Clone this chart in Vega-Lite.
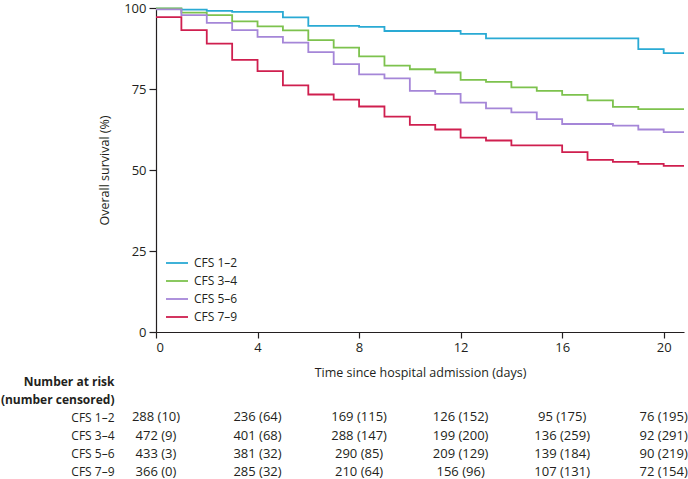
{
  "$schema": "https://vega.github.io/schema/vega-lite/v6.json",
  "padding": {"top": 2, "left": 0, "right": 0, "bottom": 0},
  "background": "white",
  "bounds": "flush",
  "config": {
    "font": "Open Sans",
    "view": {"stroke": null},
    "axis": {
      "domainColor": "#231f20",
      "tickColor": "#231f20",
      "labelColor": "#231f20",
      "titleColor": "#231f20",
      "domainWidth": 1.2,
      "tickWidth": 1.2,
      "labelFontSize": 13,
      "titleFontSize": 12.5,
      "titleFontWeight": "normal",
      "grid": false
    },
    "legend": {"labelFontSize": 12, "labelColor": "#231f20"}
  },
  "datasets": {
    "km": [
      {"group": "CFS 1–2", "day": 0, "survival": 99.8},
      {"group": "CFS 1–2", "day": 1, "survival": 99.5},
      {"group": "CFS 1–2", "day": 2, "survival": 99.1},
      {"group": "CFS 1–2", "day": 3, "survival": 98.8},
      {"group": "CFS 1–2", "day": 5, "survival": 97.1},
      {"group": "CFS 1–2", "day": 6, "survival": 94.5},
      {"group": "CFS 1–2", "day": 8, "survival": 94.2},
      {"group": "CFS 1–2", "day": 9, "survival": 92.9},
      {"group": "CFS 1–2", "day": 12, "survival": 92.0},
      {"group": "CFS 1–2", "day": 13, "survival": 90.6},
      {"group": "CFS 1–2", "day": 19, "survival": 87.3},
      {"group": "CFS 1–2", "day": 20, "survival": 86.1},
      {"group": "CFS 1–2", "day": 20.8, "survival": 86.1},
      {"group": "CFS 3–4", "day": 0, "survival": 99.9},
      {"group": "CFS 3–4", "day": 1, "survival": 98.6},
      {"group": "CFS 3–4", "day": 2, "survival": 97.8},
      {"group": "CFS 3–4", "day": 3, "survival": 95.9},
      {"group": "CFS 3–4", "day": 4, "survival": 94.3},
      {"group": "CFS 3–4", "day": 5, "survival": 93.1},
      {"group": "CFS 3–4", "day": 6, "survival": 90.1},
      {"group": "CFS 3–4", "day": 7, "survival": 87.8},
      {"group": "CFS 3–4", "day": 8, "survival": 85.1},
      {"group": "CFS 3–4", "day": 9, "survival": 82.2},
      {"group": "CFS 3–4", "day": 10, "survival": 81.1},
      {"group": "CFS 3–4", "day": 11, "survival": 80.1},
      {"group": "CFS 3–4", "day": 12, "survival": 77.8},
      {"group": "CFS 3–4", "day": 13, "survival": 77.2},
      {"group": "CFS 3–4", "day": 14, "survival": 75.5},
      {"group": "CFS 3–4", "day": 15, "survival": 74.4},
      {"group": "CFS 3–4", "day": 16, "survival": 73.2},
      {"group": "CFS 3–4", "day": 17, "survival": 71.5},
      {"group": "CFS 3–4", "day": 18, "survival": 69.5},
      {"group": "CFS 3–4", "day": 19, "survival": 68.8},
      {"group": "CFS 3–4", "day": 20.8, "survival": 68.8},
      {"group": "CFS 5–6", "day": 0, "survival": 99.6},
      {"group": "CFS 5–6", "day": 1, "survival": 97.8},
      {"group": "CFS 5–6", "day": 2, "survival": 95.4},
      {"group": "CFS 5–6", "day": 3, "survival": 93.2},
      {"group": "CFS 5–6", "day": 4, "survival": 91.1},
      {"group": "CFS 5–6", "day": 5, "survival": 89.3},
      {"group": "CFS 5–6", "day": 6, "survival": 86.4},
      {"group": "CFS 5–6", "day": 7, "survival": 82.7},
      {"group": "CFS 5–6", "day": 8, "survival": 79.5},
      {"group": "CFS 5–6", "day": 9, "survival": 78.3},
      {"group": "CFS 5–6", "day": 10, "survival": 74.4},
      {"group": "CFS 5–6", "day": 11, "survival": 73.5},
      {"group": "CFS 5–6", "day": 12, "survival": 70.8},
      {"group": "CFS 5–6", "day": 13, "survival": 69.0},
      {"group": "CFS 5–6", "day": 14, "survival": 67.8},
      {"group": "CFS 5–6", "day": 15, "survival": 65.7},
      {"group": "CFS 5–6", "day": 16, "survival": 64.2},
      {"group": "CFS 5–6", "day": 18, "survival": 63.7},
      {"group": "CFS 5–6", "day": 19, "survival": 62.5},
      {"group": "CFS 5–6", "day": 20, "survival": 61.7},
      {"group": "CFS 5–6", "day": 20.8, "survival": 61.7},
      {"group": "CFS 7–9", "day": 0, "survival": 97.2},
      {"group": "CFS 7–9", "day": 1, "survival": 93.2},
      {"group": "CFS 7–9", "day": 2, "survival": 89.0},
      {"group": "CFS 7–9", "day": 3, "survival": 84.0},
      {"group": "CFS 7–9", "day": 4, "survival": 80.5},
      {"group": "CFS 7–9", "day": 5, "survival": 76.1},
      {"group": "CFS 7–9", "day": 6, "survival": 73.3},
      {"group": "CFS 7–9", "day": 7, "survival": 71.7},
      {"group": "CFS 7–9", "day": 8, "survival": 69.6},
      {"group": "CFS 7–9", "day": 9, "survival": 66.5},
      {"group": "CFS 7–9", "day": 10, "survival": 63.9},
      {"group": "CFS 7–9", "day": 11, "survival": 62.5},
      {"group": "CFS 7–9", "day": 12, "survival": 60.0},
      {"group": "CFS 7–9", "day": 13, "survival": 59.1},
      {"group": "CFS 7–9", "day": 14, "survival": 57.6},
      {"group": "CFS 7–9", "day": 16, "survival": 55.5},
      {"group": "CFS 7–9", "day": 17, "survival": 53.1},
      {"group": "CFS 7–9", "day": 18, "survival": 52.5},
      {"group": "CFS 7–9", "day": 19, "survival": 51.9},
      {"group": "CFS 7–9", "day": 20, "survival": 51.3},
      {"group": "CFS 7–9", "day": 20.8, "survival": 51.3}
    ],
    "risk": [
      {"row": "CFS 1–2", "day": 0, "label": "288 (10)"},
      {"row": "CFS 1–2", "day": 4, "label": "236 (64)"},
      {"row": "CFS 1–2", "day": 8, "label": "169 (115)"},
      {"row": "CFS 1–2", "day": 12, "label": "126 (152)"},
      {"row": "CFS 1–2", "day": 16, "label": "95 (175)"},
      {"row": "CFS 1–2", "day": 20, "label": "76 (195)"},
      {"row": "CFS 3–4", "day": 0, "label": "472 (9)"},
      {"row": "CFS 3–4", "day": 4, "label": "401 (68)"},
      {"row": "CFS 3–4", "day": 8, "label": "288 (147)"},
      {"row": "CFS 3–4", "day": 12, "label": "199 (200)"},
      {"row": "CFS 3–4", "day": 16, "label": "136 (259)"},
      {"row": "CFS 3–4", "day": 20, "label": "92 (291)"},
      {"row": "CFS 5–6", "day": 0, "label": "433 (3)"},
      {"row": "CFS 5–6", "day": 4, "label": "381 (32)"},
      {"row": "CFS 5–6", "day": 8, "label": "290 (85)"},
      {"row": "CFS 5–6", "day": 12, "label": "209 (129)"},
      {"row": "CFS 5–6", "day": 16, "label": "139 (184)"},
      {"row": "CFS 5–6", "day": 20, "label": "90 (219)"},
      {"row": "CFS 7–9", "day": 0, "label": "366 (0)"},
      {"row": "CFS 7–9", "day": 4, "label": "285 (32)"},
      {"row": "CFS 7–9", "day": 8, "label": "210 (64)"},
      {"row": "CFS 7–9", "day": 12, "label": "156 (96)"},
      {"row": "CFS 7–9", "day": 16, "label": "107 (131)"},
      {"row": "CFS 7–9", "day": 20, "label": "72 (154)"}
    ]
  },
  "spacing": 40,
  "vconcat": [
    {
      "width": 528,
      "height": 324,
      "data": {"name": "km"},
      "mark": {"type": "line", "interpolate": "step-after", "strokeWidth": 1.8},
      "encoding": {
        "x": {
          "field": "day",
          "type": "quantitative",
          "scale": {"domain": [0, 20.8], "nice": false},
          "axis": {
            "values": [0, 4, 8, 12, 16, 20],
            "title": "Time since hospital admission (days)",
            "tickSize": 6,
            "labelPadding": 3,
            "titlePadding": 12
          }
        },
        "y": {
          "field": "survival",
          "type": "quantitative",
          "scale": {"domain": [0, 100], "nice": false},
          "axis": {
            "values": [0, 25, 50, 75, 100],
            "title": "Overall survival (%)",
            "tickSize": 7,
            "labelPadding": 3,
            "titlePadding": 12
          }
        },
        "color": {
          "field": "group",
          "type": "nominal",
          "scale": {
            "domain": ["CFS 1–2", "CFS 3–4", "CFS 5–6", "CFS 7–9"],
            "range": ["#2aaad4", "#7dc24e", "#a586d8", "#cf1f4f"]
          },
          "legend": {
            "title": null,
            "orient": "none",
            "legendX": 9,
            "legendY": 243,
            "padding": 0,
            "symbolType": "stroke",
            "symbolSize": 484,
            "symbolStrokeWidth": 1.8,
            "labelOffset": 5,
            "rowPadding": -5
          }
        }
      }
    },
    {
      "width": 528,
      "height": 109,
      "data": {"name": "risk"},
      "mark": {"type": "text", "fontSize": 13, "color": "#231f20", "align": "center"},
      "encoding": {
        "x": {
          "field": "day",
          "type": "quantitative",
          "scale": {"domain": [0, 20.8], "nice": false},
          "axis": null
        },
        "y": {
          "field": "row",
          "type": "nominal",
          "scale": {
            "domain": ["Number at risk", "(number censored)", "CFS 1–2", "CFS 3–4", "CFS 5–6", "CFS 7–9"],
            "padding": 0.5
          },
          "axis": {
            "title": null,
            "domain": false,
            "ticks": false,
            "tickSize": 0,
            "labelPadding": 42,
            "labelAlign": "right",
            "labelFontSize": 12,
            "labelFontWeight": {
              "condition": {"test": "datum.value === 'Number at risk' || datum.value === '(number censored)'", "value": "bold"},
              "value": "normal"
            }
          }
        },
        "text": {"field": "label"}
      }
    }
  ]
}
